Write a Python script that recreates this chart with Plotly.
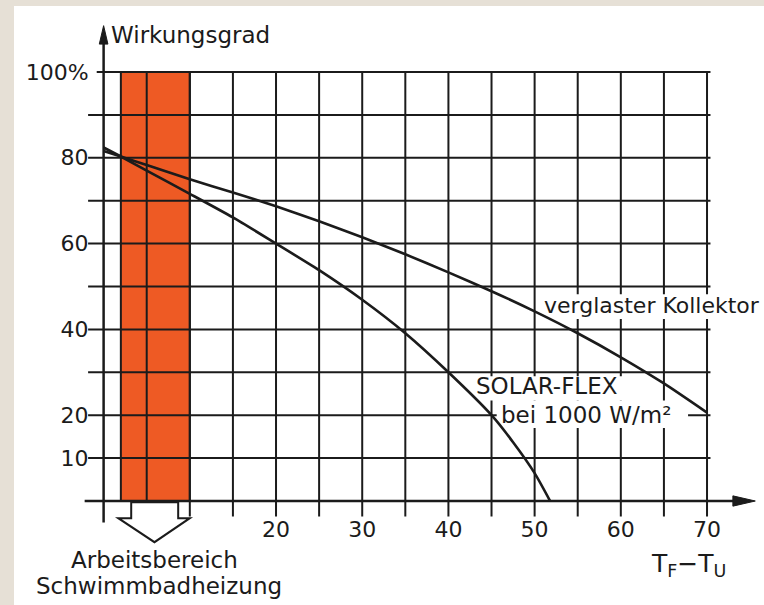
import plotly.graph_objects as go

# ---------------- data ----------------
dt_solarflex = [0, 2, 5, 10, 15, 20, 25, 30, 35, 40, 45, 47.5, 50, 51.8]
eta_solarflex = [82.4, 80.3, 77.0, 71.6, 66.1, 60.0, 53.8, 46.9, 39.1, 30.0, 20.0, 13.7, 6.5, 0.0]

dt_glazed = [0, 2, 5, 10, 15, 20, 25, 30, 35, 40, 45, 50, 55, 60, 65, 70]
eta_glazed = [81.6, 80.3, 78.3, 75.0, 71.9, 68.7, 65.2, 61.5, 57.5, 53.3, 48.9, 44.2, 39.1, 33.5, 27.4, 20.6]

band_range = [2, 10]          # Arbeitsbereich Schwimmbadheizung (K)

x_tickvals = [20, 30, 40, 50, 60, 70]
x_ticktext = ["20", "30", "40", "50", "60", "70"]
y_tickvals = [10, 20, 40, 60, 80, 100]
y_ticktext = ["10", "20", "40", "60", "80", "100%"]

x_grid = [5, 10, 15, 20, 25, 30, 35, 40, 45, 50, 55, 60, 65, 70]
y_grid = [10, 20, 30, 40, 50, 60, 70, 80, 90, 100]

# ---------------- style ----------------
W, H = 764, 605
X_RANGE = [-12.02, 76.61]
Y_RANGE = [-24.24, 116.78]
INK = "#1b1b1b"
ORANGE = "#ee5a24"
BEIGE = "#e6e0d6"
FONT = "DejaVu Sans"
LW = 2

shapes = []
# white panel on beige card
shapes.append(dict(type="rect", xref="paper", yref="paper", x0=14 / W, x1=1, y0=0, y1=1 - 6 / H,
                   fillcolor="white", line=dict(width=0), layer="below"))
# orange working band
shapes.append(dict(type="rect", x0=band_range[0], x1=band_range[1], y0=0, y1=100,
                   fillcolor=ORANGE, line=dict(color=INK, width=LW), layer="below"))
# horizontal grid lines
for yv in y_grid:
    shapes.append(dict(type="line", x0=-0.8 if yv == 100 else -1.8, x1=70.4, y0=yv, y1=yv,
                       line=dict(color=INK, width=LW), layer="below"))
# vertical grid lines
for xv in x_grid:
    shapes.append(dict(type="line", x0=xv, x1=xv, y0=-3.6, y1=100,
                       line=dict(color=INK, width=LW), layer="below"))
# axes
shapes.append(dict(type="line", x0=0, x1=0, y0=-5, y1=108,
                   line=dict(color=INK, width=LW + 0.5), layer="below"))
shapes.append(dict(type="line", x0=-2.2, x1=73.5, y0=0, y1=0,
                   line=dict(color=INK, width=LW + 0.5), layer="below"))
# arrow heads
shapes.append(dict(type="path", path="M -0.5,106.5 L 0,110.8 L 0.5,106.5 Z",
                   fillcolor=INK, line=dict(color=INK, width=1), layer="below"))
shapes.append(dict(type="path", path="M 73.0,-1.2 L 75.6,0 L 73.0,1.2 Z",
                   fillcolor=INK, line=dict(color=INK, width=1), layer="below"))
# white masks behind the curve labels
shapes.append(dict(type="rect", x0=50.75, x1=78, y0=42.4, y1=48.2,
                   fillcolor="white", line=dict(width=0), layer="below"))
shapes.append(dict(type="rect", x0=42.8, x1=60.6, y0=23.4, y1=29.1,
                   fillcolor="white", line=dict(width=0), layer="below"))
shapes.append(dict(type="rect", x0=45.6, x1=67.8, y0=17.0, y1=23.4,
                   fillcolor="white", line=dict(width=0), layer="below"))
# hollow arrow under the band
shapes.append(dict(type="path",
                   path="M 3.2,-0.3 L 3.2,-4 L 1.7,-4 L 5.9,-9.6 L 10.0,-4 L 8.65,-4 L 8.65,-0.3 Z",
                   fillcolor="white", line=dict(color=INK, width=LW), layer="above"))

fig = go.Figure()
fig.add_trace(go.Scatter(x=dt_glazed, y=eta_glazed, mode="lines",
                         line=dict(color=INK, width=2.6, shape="spline", smoothing=0.6),
                         hoverinfo="skip", cliponaxis=False))
fig.add_trace(go.Scatter(x=dt_solarflex, y=eta_solarflex, mode="lines",
                         line=dict(color=INK, width=2.6, shape="spline", smoothing=0.6),
                         hoverinfo="skip", cliponaxis=False))

def txt(x, y, s, xanchor="left", size=22):
    return dict(x=x, y=y, text=s, showarrow=False, xanchor=xanchor, yanchor="middle",
                borderpad=0, font=dict(family=FONT, size=size, color=INK))

annotations = [
    txt(0.74, 108.6, "Wirkungsgrad", size=23),
    txt(50.97, 45.6, "verglaster Kollektor"),
    txt(43.09, 26.7, "SOLAR-FLEX", size=23),
    txt(45.99, 20.0, "bei 1000 W/m²", size=23),
    txt(5.85, -13.85, "Arbeitsbereich", xanchor="center", size=23),
    txt(6.37, -19.9, "Schwimmbadheizung", xanchor="center", size=23),
    txt(63.39, -15.0, "T<sub>F</sub>−T<sub>U</sub>", size=25),
]

fig.update_layout(
    width=W, height=H,
    margin=dict(l=0, r=0, t=0, b=0),
    paper_bgcolor=BEIGE, plot_bgcolor=BEIGE,
    showlegend=False, hovermode=False,
    shapes=shapes, annotations=annotations,
    xaxis=dict(range=X_RANGE, showgrid=False, zeroline=False, showline=False,
               anchor="free", position=(H - 501) / H,
               tickvals=x_tickvals, ticktext=x_ticktext, ticks="",
               ticklabelstandoff=13,
               tickfont=dict(family=FONT, size=22, color=INK), fixedrange=True),
    yaxis=dict(range=Y_RANGE, showgrid=False, zeroline=False, showline=False,
               anchor="free", position=103.6 / W,
               tickvals=y_tickvals, ticktext=y_ticktext, ticks="",
               ticklabelstandoff=15,
               tickfont=dict(family=FONT, size=22, color=INK), fixedrange=True),
)

fig.write_html("out.html", config=dict(displayModeBar=False),
               post_script="document.body.style.margin='0';document.body.style.padding='0';"
                           "document.body.style.overflow='hidden';")
